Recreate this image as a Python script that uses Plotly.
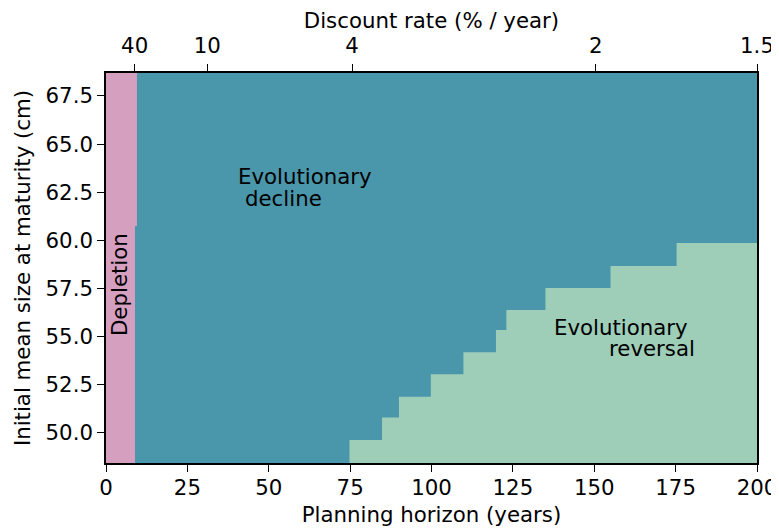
import plotly.graph_objects as go

# ---- data ----
y_min, y_max = 48.44, 68.69
x_min, x_max = 0, 200

# depletion / decline boundary (planning horizon) vs size
depl_size = [48.44, 60.75, 60.75, 68.69]
depl_horizon = [8.9, 8.9, 9.5, 9.5]

# decline / reversal staircase: left edge of each step and its top
step_horizon = [74.8, 84.8, 90.0, 99.8, 109.8, 119.8, 123.0, 135.0, 155.0, 175.3]
step_top = [49.64, 50.80, 51.88, 53.05, 54.19, 55.35, 56.39, 57.53, 58.67, 59.86]

# top axis: discount rate ticks placed at planning-horizon positions
disc_pos = [8.8, 31.1, 75.6, 150.5, 200.0]
disc_labels = ["40", "10", "4", "2", "1.5"]

x_ticks = [0, 25, 50, 75, 100, 125, 150, 175, 200]
y_ticks = [50.0, 52.5, 55.0, 57.5, 60.0, 62.5, 65.0, 67.5]

c_depl = "#d59fc0"
c_decl = "#4a97ab"
c_rev = "#9ecdb8"
FONT = "DejaVu Sans"
FS = 21.3

fig = go.Figure()

# decline (background region)
fig.add_trace(go.Scatter(
    x=[x_min, x_max, x_max, x_min, x_min],
    y=[y_min, y_min, y_max, y_max, y_min],
    fill="toself", fillcolor=c_decl, line=dict(width=0), mode="lines",
    hoverinfo="skip", showlegend=False))

# depletion
dx = [x_min] + depl_horizon + [x_min]
dy = [y_min] + depl_size + [y_max]
fig.add_trace(go.Scatter(
    x=dx, y=dy, fill="toself", fillcolor=c_depl, line=dict(width=0),
    mode="lines", hoverinfo="skip", showlegend=False))

# reversal staircase
rx = [x_max, step_horizon[0]]
ry = [y_min, y_min]
for i, (h, t) in enumerate(zip(step_horizon, step_top)):
    nxt = step_horizon[i + 1] if i + 1 < len(step_horizon) else x_max
    rx += [h, nxt]
    ry += [t, t]
rx.append(x_max)
ry.append(y_min)
fig.add_trace(go.Scatter(
    x=rx, y=ry, fill="toself", fillcolor=c_rev, line=dict(width=0),
    mode="lines", hoverinfo="skip", showlegend=False))

# dummy trace for top axis
fig.add_trace(go.Scatter(x=[x_min, x_max], y=[y_min, y_min], xaxis="x2",
                         mode="markers", marker=dict(opacity=0),
                         hoverinfo="skip", showlegend=False))

axis_common = dict(showgrid=False, zeroline=False, linecolor="black",
                   linewidth=1.5, ticks="outside", ticklen=7, tickwidth=1.3,
                   tickcolor="black", automargin=False,
                   tickfont=dict(family=FONT, size=FS, color="black"))

# the page body adds an 8px offset; compensate in figure size / margins
fig.update_layout(
    width=771, height=523,
    margin=dict(l=98, r=22, t=65, b=68),
    paper_bgcolor="white", plot_bgcolor="white",
    font=dict(family=FONT, size=FS, color="black"),
    xaxis=dict(range=[x_min, x_max], tickvals=x_ticks, mirror=True,
               ticklabelstandoff=-2,
               title=dict(text="Planning horizon (years)", standoff=8,
                          font=dict(family=FONT, size=FS)),
               **axis_common),
    xaxis2=dict(range=[x_min, x_max], overlaying="x", side="top",
                tickvals=disc_pos, ticktext=disc_labels,
                ticklabelstandoff=3,
                title=dict(text="Discount rate (% / year)", standoff=4,
                           font=dict(family=FONT, size=FS)),
                **axis_common),
    yaxis=dict(range=[y_min, y_max], tickvals=y_ticks, tickformat=".1f", mirror=True,
               title=dict(text="Initial mean size at maturity (cm)", standoff=9,
                          font=dict(family=FONT, size=FS)),
               **axis_common),
)

def label(text, x, y, xanchor="left", angle=0):
    fig.add_annotation(x=x, y=y, text=text, showarrow=False, xanchor=xanchor,
                       yanchor="middle", textangle=angle,
                       font=dict(family=FONT, size=FS, color="black"))

label("Depletion", 4.0, 57.68, xanchor="center", angle=-90)
label("Evolutionary", 40.0, 63.34)
label("decline", 42.0, 62.16)
label("Evolutionary", 137.0, 55.5)
label("reversal", 154.0, 54.38)

fig.write_html("out.html")
